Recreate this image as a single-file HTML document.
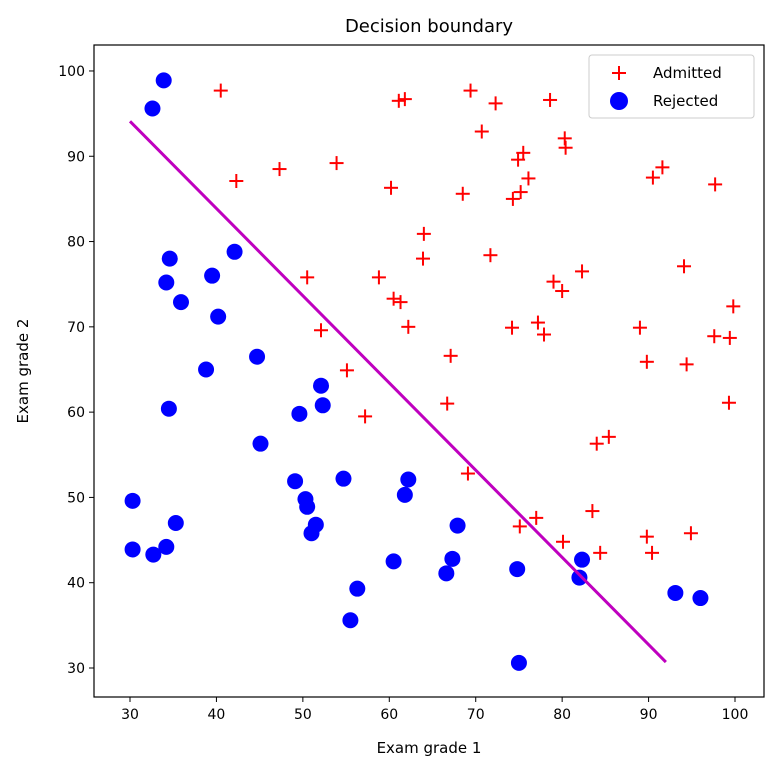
<!DOCTYPE html>
<html><head><meta charset="utf-8"><style>
body{margin:0;background:#fff;width:777px;height:772px;overflow:hidden}
svg text{font-family:"DejaVu Sans","Liberation Sans",sans-serif;fill:#000}
</style></head><body>
<svg id="chart" width="777" height="772" xmlns="http://www.w3.org/2000/svg"></svg>
<script>
const xTicks=[30,40,50,60,70,80,90,100];
const yTicks=[30,40,50,60,70,80,90,100];
const rejectedX=[33.9,32.6,34.6,34.2,42.1,39.5,35.9,40.2,38.8,44.7,34.5,45.1,52.1,52.3,49.6,30.3,35.3,30.3,32.7,34.2,49.1,50.3,50.5,51.5,51.0,54.7,62.2,61.8,56.3,55.5,60.5,67.9,67.3,66.6,74.8,75.0,82.3,82.0,93.1,96.0];
const rejectedY=[98.9,95.6,78.0,75.2,78.8,76.0,72.9,71.2,65.0,66.5,60.4,56.3,63.1,60.8,59.8,49.6,47.0,43.9,43.3,44.2,51.9,49.8,48.9,46.8,45.8,52.2,52.1,50.3,39.3,35.6,42.5,46.7,42.8,41.1,41.6,30.6,42.7,40.6,38.8,38.2];
const admittedX=[40.5,61.1,61.8,69.4,72.3,78.6,70.7,80.3,80.4,75.5,74.9,91.6,90.5,42.3,47.3,53.9,60.2,68.5,75.2,76.1,74.3,97.7,64.0,63.9,71.7,79.0,82.3,80.0,94.1,50.5,58.8,60.5,61.3,52.1,62.2,74.2,77.2,77.9,89.0,97.6,99.4,99.8,67.1,89.8,94.4,55.1,57.2,66.7,99.3,69.1,84.0,85.4,83.5,75.1,77.0,80.1,84.4,89.8,90.4,94.9];
const admittedY=[97.7,96.5,96.7,97.7,96.2,96.6,92.9,92.1,91.0,90.4,89.6,88.7,87.5,87.1,88.5,89.2,86.3,85.6,85.8,87.4,85.0,86.7,80.9,78.0,78.4,75.3,76.5,74.2,77.1,75.8,75.8,73.3,72.9,69.6,70.0,69.9,70.5,69.1,69.9,68.9,68.7,72.4,66.6,65.9,65.6,64.9,59.5,61.0,61.1,52.8,56.3,57.1,48.4,46.6,47.6,44.8,43.5,45.4,43.5,45.8];
const boundaryX=[30,92];
const boundaryY=[94.1,30.7];

const NS="http://www.w3.org/2000/svg";
const svg=document.getElementById('chart');
const L=94,R=764,T=45,B=697;
const sx=v=>130+(v-30)*8.643;
const sy=v=>668-(v-30)*8.529;
function mk(tag,attrs,parent){const e=document.createElementNS(NS,tag);for(const k in attrs)e.setAttribute(k,attrs[k]);(parent||svg).appendChild(e);return e;}

const title=mk('text',{x:(L+R)/2,y:32,'text-anchor':'middle','font-size':'18'});
title.textContent='Decision boundary';



xTicks.forEach(t=>{
  const g=mk('g',{});
  
  
  mk('line',{x1:sx(t),x2:sx(t),y1:B,y2:B+5,stroke:'#000','stroke-width':1},g);
  const tx=mk('text',{x:sx(t),y:B+22,'text-anchor':'middle','font-size':'14'},g);tx.textContent=t;
});
yTicks.forEach(t=>{
  const g=mk('g',{});
  
  
  mk('line',{x1:L-5,x2:L,y1:sy(t),y2:sy(t),stroke:'#000','stroke-width':1},g);
  const tx=mk('text',{x:L-9,y:sy(t)+5,'text-anchor':'end','font-size':'14'},g);tx.textContent=t;
});
const xl=mk('text',{x:(L+R)/2,y:753,'text-anchor':'middle','font-size':'15'});xl.textContent='Exam grade 1';


const yl=mk('text',{x:0,y:0,'text-anchor':'middle','font-size':'15',transform:`translate(28,${(T+B)/2}) rotate(-90)`});yl.textContent='Exam grade 2';



function plus(x,y,parent){
  mk('line',{x1:x-7,x2:x+7,y1:y,y2:y,stroke:'#f00','stroke-width':2},parent);
  mk('line',{x1:x,x2:x,y1:y-7,y2:y+7,stroke:'#f00','stroke-width':2},parent);
}
admittedX.forEach((v,i)=>{
  const g=mk('g',{});
  
  
  plus(sx(v),sy(admittedY[i]),g);
});
rejectedX.forEach((v,i)=>{
  const c=mk('circle',{cx:sx(v),cy:sy(rejectedY[i]),r:8,fill:'#0000ff'});
  
  
});
const ln=mk('line',{x1:sx(boundaryX[0]),y1:sy(boundaryY[0]),x2:sx(boundaryX[1]),y2:sy(boundaryY[1]),stroke:'#bf00bf','stroke-width':3});



const frame=mk('rect',{x:L,y:T,width:R-L,height:B-T,fill:'none',stroke:'#000','stroke-width':1.2});



const lg=mk('g',{});


mk('rect',{x:589,y:55,width:165,height:63,rx:3,fill:'#fff','fill-opacity':0.85,stroke:'#ccc'},lg);
plus(619,73,lg);
const t1=mk('text',{x:653,y:78,'font-size':'15'},lg);t1.textContent='Admitted';
mk('circle',{cx:619,cy:101,r:9,fill:'#0000ff'},lg);
const t2=mk('text',{x:653,y:106,'font-size':'15'},lg);t2.textContent='Rejected';
</script>
</body></html>
